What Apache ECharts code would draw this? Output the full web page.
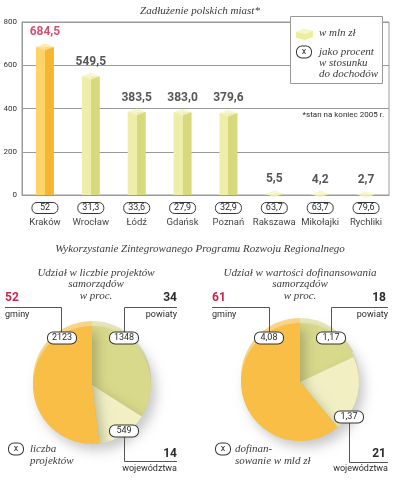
<!DOCTYPE html>
<html><head><meta charset="utf-8">
<script src="https://cdn.jsdelivr.net/npm/echarts@6/dist/echarts.min.js"></script>
<style>html,body{margin:0;padding:0;background:#fff}#c{width:394px;height:480px}</style>
</head><body><div id="c"></div>
<script>
// ---- data ----
const cities = ['Kraków','Wrocław','Łódź','Gdańsk','Poznań','Rakszawa','Mikołajki','Rychliki'];
const debtMln = [684.5, 549.5, 383.5, 383.0, 379.6, 5.5, 4.2, 2.7];
const debtPctIncome = ['52','31,3','33,6','27,9','32,9','63,7','63,7','79,6'];
const yTicks = [0, 200, 400, 600, 800];
const highlightIndex = 0;

const pieGroups = ['gminy','powiaty','województwa'];
const countPct = [52, 34, 14];
const countProjects = ['2123','1348','549'];
const fundPct = [61, 18, 21];
const fundBln = ['4,08','1,17','1,37'];

// ---- styling ----
const SANS = 'Roboto, "Noto Sans", sans-serif';
const SERIF = '"Liberation Serif", "DejaVu Serif", serif';
const CRIMSON = '#C8264B';
const DARK = '#2b2b2b';
const GRID = '#9a9a9a';
const sliceCol = { 'gminy': '#F8BE45', 'powiaty': '#D9D98B', 'województwa': '#F2F0C3' };
const rimCol = { 'gminy': '#FBD78C', 'powiaty': '#E9E9BA', 'województwa': '#F6F4D8' };

function hardGrad(l, r) {
  return { type: 'linear', x: 0, y: 0, x2: 1, y2: 0, colorStops: [
    { offset: 0, color: l }, { offset: 0.5, color: l }, { offset: 0.5, color: r }, { offset: 1, color: r } ] };
}
const fmt = v => v.toFixed(1).replace('.', ',');

const barData = debtMln.map((v, i) => ({
  value: v,
  itemStyle: { color: i === highlightIndex ? hardGrad('#FDD36A', '#F6B630') : hardGrad('#EEEEAA', '#D8D87C') }
}));
const capData = debtMln.map((v, i) => ({
  value: v,
  itemStyle: { color: i === highlightIndex ? '#FFE39A' : '#F5F5C6' },
  label: { color: i === highlightIndex ? CRIMSON : DARK }
}));

function pieData(pcts, cols) {
  // order clockwise from 12 o'clock: powiaty, województwa, gminy
  const order = [1, 2, 0];
  return order.map(k => ({ name: pieGroups[k], value: pcts[k], itemStyle: { color: cols[pieGroups[k]] } }));
}

function txt(x, y, s, o) {
  return Object.assign({ type: 'text', x: x, y: y, z: 50, style: Object.assign({
    text: s, font: '9px ' + SANS, fill: DARK, textAlign: 'left', textVerticalAlign: 'middle' }, o || {}) });
}
function serifTxt(x, y, s, align) {
  return txt(x, y, s, { font: 'italic 11px ' + SERIF, fill: '#3a3a3a', textAlign: align || 'center' });
}
function badge(x, y, s, w) {
  return txt(x, y, s, { font: '9px ' + SANS, textAlign: 'center', backgroundColor: '#fff',
    borderColor: '#333', borderWidth: 1, borderRadius: 5, padding: [1, 3], width: w || 22, align: 'center' });
}
function pline(pts) {
  return { type: 'polyline', z: 45, shape: { points: pts }, style: { stroke: '#555', lineWidth: 1, fill: null } };
}

const graphics = [
  serifTxt(200, 11, 'Zadłużenie polskich miast*'),
  // legend box
  { type: 'rect', z: 40, shape: { x: 290.5, y: 16.5, width: 92, height: 67 }, style: { fill: '#fff', stroke: '#999', lineWidth: 1 } },
  { type: 'polygon', z: 46, shape: { points: [[296,32],[304,29],[313,31],[313,37],[305,40],[296,38]] }, style: { fill: '#EDED9E' } },
  { type: 'polygon', z: 47, shape: { points: [[296,32],[304,29],[313,31],[305,34]] }, style: { fill: '#F7F7C8' } },
  serifTxt(319, 33, 'w mln zł', 'left'),
  badge(304, 52, 'x', 8),
  serifTxt(319, 52, 'jako procent', 'left'),
  serifTxt(319, 63, 'w stosunku', 'left'),
  serifTxt(319, 74, 'do dochodów', 'left'),
  txt(384, 115, '*stan na koniec 2005 r.', { font: '8px ' + SANS, textAlign: 'right' }),
  // section title
  serifTxt(200, 249, 'Wykorzystanie Zintegrowanego Programu Rozwoju Regionalnego'),
  // left pie title
  serifTxt(96, 273, 'Udział w liczbie projektów'),
  serifTxt(96, 284, 'samorządów'),
  serifTxt(96, 296, 'w proc.'),
  // right pie title
  serifTxt(300, 273, 'Udział w wartości dofinansowania'),
  serifTxt(300, 284, 'samorządów'),
  serifTxt(300, 296, 'w proc.'),
  // left pie annotations
  txt(5, 298, String(countPct[0]), { font: 'bold 12px ' + SANS, fill: CRIMSON }),
  txt(5, 315, pieGroups[0]),
  pline([[5, 307.5], [61.5, 307.5], [61.5, 332]]),
  badge(62, 338, countProjects[0]),
  txt(177, 298, String(countPct[1]), { font: 'bold 12px ' + SANS, textAlign: 'right' }),
  txt(177, 315, pieGroups[1], { textAlign: 'right' }),
  pline([[177, 307.5], [124.5, 307.5], [124.5, 332]]),
  badge(124, 338, countProjects[1]),
  badge(124, 431, countProjects[2]),
  pline([[124.5, 437], [124.5, 461.5], [177, 461.5]]),
  txt(177, 454, String(countPct[2]), { font: 'bold 12px ' + SANS, textAlign: 'right' }),
  txt(177, 469, pieGroups[2], { textAlign: 'right' }),
  badge(16, 449, 'x', 8),
  serifTxt(30, 449, 'liczba', 'left'),
  serifTxt(30, 461, 'projektów', 'left'),
  // right pie annotations
  txt(212, 298, String(fundPct[0]), { font: 'bold 12px ' + SANS, fill: CRIMSON }),
  txt(212, 315, pieGroups[0]),
  pline([[212, 307.5], [269.5, 307.5], [269.5, 332]]),
  badge(269, 338, fundBln[0]),
  txt(386, 298, String(fundPct[1]), { font: 'bold 12px ' + SANS, textAlign: 'right' }),
  txt(388, 315, pieGroups[1], { textAlign: 'right' }),
  pline([[388, 307.5], [331.5, 307.5], [331.5, 332]]),
  badge(331, 338, fundBln[1]),
  badge(349, 417, fundBln[2]),
  pline([[349.5, 423], [349.5, 462.5], [388, 462.5]]),
  txt(386, 454, String(fundPct[2]), { font: 'bold 12px ' + SANS, textAlign: 'right' }),
  txt(388, 469, pieGroups[2], { textAlign: 'right' }),
  badge(223, 449, 'x', 8),
  serifTxt(235, 449, 'dofinan-', 'left'),
  serifTxt(235, 461, 'sowanie w mld zł', 'left')
];

const chart = echarts.init(document.getElementById('c'), null, { renderer: 'canvas' });
chart.setOption({
  animation: false,
  backgroundColor: '#fff',
  grid: { left: 22, right: 5, top: 22, bottom: 285, show: true, borderColor: GRID, borderWidth: 1 },
  xAxis: {
    type: 'category', data: cities,
    axisLine: { show: true, lineStyle: { color: GRID } },
    axisTick: { show: false },
    axisLabel: {
      interval: 0, margin: 7,
      formatter: (v, i) => '{b|' + debtPctIncome[i] + '}\n{n|' + v + '}',
      rich: {
        b: { fontFamily: SANS, fontSize: 9, color: DARK, borderColor: '#333', borderWidth: 1, borderRadius: 5,
             padding: [1, 2], width: 22, align: 'center', lineHeight: 12 },
        n: { fontFamily: SANS, fontSize: 9.5, color: '#444', lineHeight: 14, padding: [3, 0, 0, 0] }
      }
    }
  },
  yAxis: {
    type: 'value', min: yTicks[0], max: yTicks[yTicks.length - 1], interval: 200,
    axisLine: { show: true, lineStyle: { color: GRID } },
    axisTick: { show: false },
    splitLine: { lineStyle: { color: GRID, width: 1 } },
    axisLabel: { fontFamily: SANS, fontSize: 8, color: '#333', margin: 5 }
  },
  series: [
    { type: 'bar', data: barData, barWidth: 18, z: 2 },
    { type: 'scatter', data: capData, symbol: 'diamond', symbolSize: [18, 7], z: 3,
      label: { show: true, position: 'top', distance: 5, fontFamily: SANS, fontWeight: 'bold', fontSize: 12,
               formatter: p => fmt(p.value) } },
    // pie rims (tilted top edge)
    { type: 'pie', silent: true, center: [92, 380], radius: 59, startAngle: 90, clockwise: true,
      label: { show: false }, labelLine: { show: false }, data: pieData(countPct, rimCol), z: 1 },
    { type: 'pie', silent: true, center: [300, 377], radius: 59, startAngle: 90, clockwise: true,
      label: { show: false }, labelLine: { show: false }, data: pieData(fundPct, rimCol), z: 1 },
    // pies
    { type: 'pie', center: [92, 385], radius: 59, startAngle: 90, clockwise: true,
      label: { show: false }, labelLine: { show: false }, data: pieData(countPct, sliceCol), z: 2,
      itemStyle: { shadowBlur: 12, shadowColor: 'rgba(0,0,0,0.22)', shadowOffsetX: 5, shadowOffsetY: 6 } },
    { type: 'pie', center: [300, 382], radius: 59, startAngle: 90, clockwise: true,
      label: { show: false }, labelLine: { show: false }, data: pieData(fundPct, sliceCol), z: 2,
      itemStyle: { shadowBlur: 12, shadowColor: 'rgba(0,0,0,0.22)', shadowOffsetX: 5, shadowOffsetY: 6 } }
  ],
  graphic: graphics
});
</script></body></html>
